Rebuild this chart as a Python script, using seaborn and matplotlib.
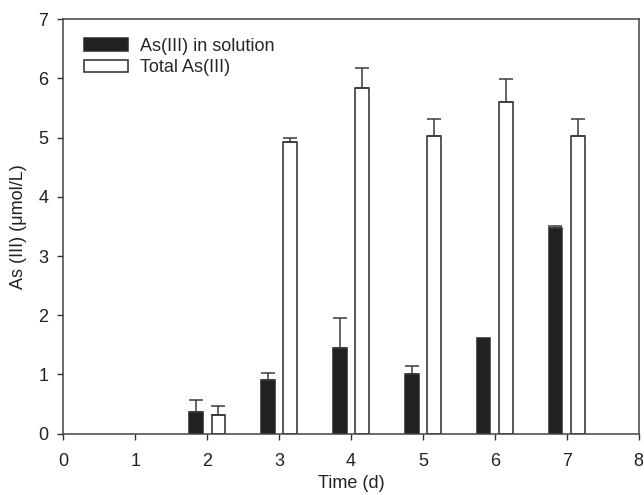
import numpy as np
import pandas as pd
import matplotlib
matplotlib.use("Agg")
import matplotlib.pyplot as plt
import seaborn as sns

days = [2, 3, 4, 5, 6, 7]
solution = [0.37, 0.90, 1.45, 1.01, 1.62, 3.47]
solution_err = [0.19, 0.13, 0.50, 0.14, 0.0, 0.04]
total = [0.31, 4.93, 5.84, 5.02, 5.61, 5.03]
total_err = [0.16, 0.07, 0.34, 0.29, 0.38, 0.29]
series = ["As(III) in solution", "Total As(III)"]

sns.set_style("ticks")
plt.rcParams["font.family"] = ["Liberation Sans", "DejaVu Sans"]
plt.rcParams["font.size"] = 13

df = pd.DataFrame({
    "day": days * 2,
    "value": solution + total,
    "series": [series[0]] * len(days) + [series[1]] * len(days),
})

fig = plt.figure(figsize=(6.44, 4.95), dpi=100)
ax = fig.add_axes([0.0985, 0.124, 0.893, 0.837])

sns.barplot(data=df, x="day", y="value", hue="series", hue_order=series,
            native_scale=True, width=0.62, gap=0.39, errorbar=None,
            palette={series[0]: "#231f20", series[1]: "white"},
            edgecolor="#2a2a2a", linewidth=1.1, ax=ax)

ecol = "#3a3a3a"
for cont, errs in zip(ax.containers, [solution_err, total_err]):
    for bar, e in zip(cont, errs):
        if e <= 0:
            continue
        xc = bar.get_x() + bar.get_width() / 2
        ax.errorbar([xc], [bar.get_height()], yerr=[[0], [e]], fmt="none",
                    ecolor=ecol, elinewidth=1.1, capsize=4.7, capthick=1.1)

ax.set_xlim(0, 8)
ax.set_ylim(0, 7)
ax.set_xticks(range(0, 9))
ax.set_yticks(range(0, 8))
ax.set_xlabel("Time (d)", fontsize=13, color="#222222", labelpad=3)
ax.set_ylabel("As (III) (μmol/L)", fontsize=13, color="#222222", labelpad=8)
ax.tick_params(axis="both", direction="out", length=4.3, width=1, colors="#333333",
               labelcolor="#222222", labelsize=13, top=False, right=False)
ax.tick_params(axis="x", pad=10)
ax.tick_params(axis="y", pad=6.5)
for s in ax.spines.values():
    s.set_visible(True)
    s.set_color("#444444")
    s.set_linewidth(1.1)

ax.legend(loc="upper left", frameon=False, fontsize=13, handlelength=2.45,
          handleheight=0.7, labelspacing=0.25, handletextpad=0.65,
          borderpad=0.0, bbox_to_anchor=(0.036, 0.955), borderaxespad=0.0)

fig.savefig("out.png", dpi=100)
